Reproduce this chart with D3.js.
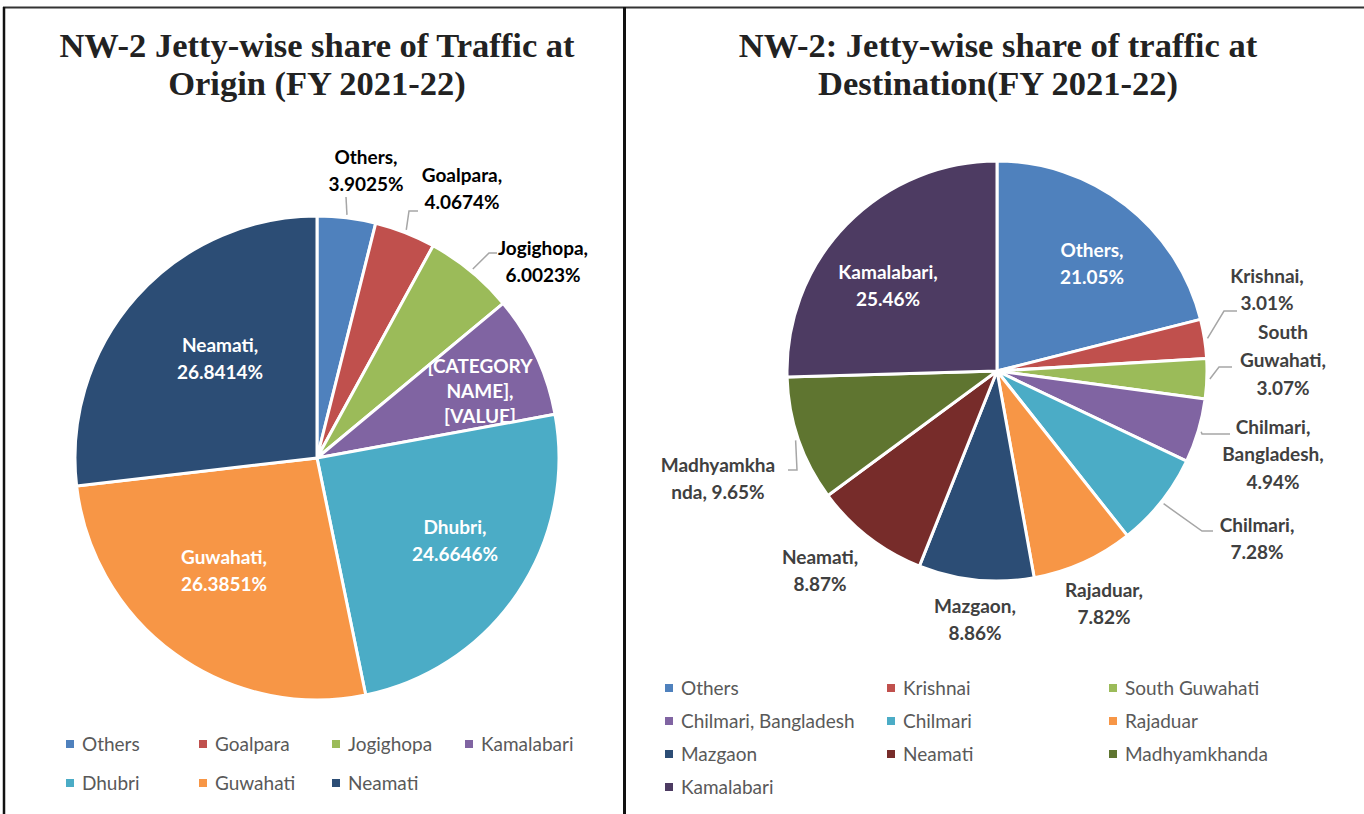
<!DOCTYPE html>
<html>
<head>
<meta charset="utf-8">
<script src="https://cdn.jsdelivr.net/npm/d3@7"></script>
<style>
  html, body { margin: 0; padding: 0; background: #fff; }
  svg { display: block; }
</style>
</head>
<body>
<svg id="chart" width="1364" height="814"></svg>
<script>
// ---------- DATA ----------
const originCategories = ["Others", "Goalpara", "Jogighopa", "Kamalabari", "Dhubri", "Guwahati", "Neamati"];
const originValues = [3.9025, 4.0674, 6.0023, 8.1367, 24.6646, 26.3851, 26.8414];

const destCategories = ["Others", "Krishnai", "South Guwahati", "Chilmari, Bangladesh", "Chilmari",
  "Rajaduar", "Mazgaon", "Neamati", "Madhyamkhanda", "Kamalabari"];
const destValues = [21.05, 3.01, 3.07, 4.94, 7.28, 7.82, 8.86, 8.87, 9.65, 25.46];

const originTitle = ["NW-2 Jetty-wise share of Traffic at", "Origin (FY 2021-22)"];
const destTitle = ["NW-2: Jetty-wise share of traffic at", "Destination(FY 2021-22)"];

// ---------- STYLE / LAYOUT ----------
const originColors = ["#4F81BD", "#C0504D", "#9BBB59", "#8064A2", "#4BACC6", "#F79646", "#2C4D75"];
const destColors = ["#4F81BD", "#C0504D", "#9BBB59", "#8064A2", "#4BACC6", "#F79646", "#2C4D75", "#772C2A", "#5F7530", "#4D3B62"];

const svg = d3.select("#chart");

// frame lines
svg.append("line").attr("x1", 3).attr("x2", 1364).attr("y1", 7.5).attr("y2", 7.5)
  .attr("stroke", "#333").attr("stroke-width", 2);
svg.append("line").attr("x1", 4).attr("x2", 4).attr("y1", 7).attr("y2", 814)
  .attr("stroke", "#111").attr("stroke-width", 2.5);
svg.append("line").attr("x1", 624.5).attr("x2", 624.5).attr("y1", 7).attr("y2", 814)
  .attr("stroke", "#111").attr("stroke-width", 3);

function drawPie(cfg) {
  const g = svg.append("g").attr("transform", `translate(${cfg.cx},${cfg.cy})`);
  const data = cfg.categories.map((c, i) => ({ name: c, value: cfg.values[i], i }));
  const pie = d3.pie().value(d => d.value).sort(null);
  const arcs = pie(data);
  const arc = d3.arc().innerRadius(0).outerRadius(cfg.r);
  const edge = d3.arc().innerRadius(cfg.r + 3).outerRadius(cfg.r + 3);
  const color = d3.scaleOrdinal().domain(cfg.categories).range(cfg.colors);

  g.selectAll("path.slice").data(arcs).enter().append("path")
    .attr("class", "slice")
    .attr("d", arc)
    .attr("fill", d => color(d.data.name))
    .attr("stroke", "#fff").attr("stroke-width", 3).attr("stroke-linejoin", "round");

  // clip paths per slice (for labels that overflow)
  const defs = svg.append("defs");
  arcs.forEach((a, k) => {
    defs.append("clipPath").attr("id", cfg.id + "clip" + k)
      .append("path").attr("d", d3.arc().innerRadius(0).outerRadius(cfg.r - 1.5)(a));
  });

  // leader lines
  arcs.forEach((a, k) => {
    const L = cfg.labels[k];
    if (!L.leader) return;
    const end = edge.centroid(a);
    const pts = L.leader.concat([end]);
    g.append("path")
      .attr("d", d3.line()(pts))
      .attr("fill", "none").attr("stroke", "#A6A6A6").attr("stroke-width", 1.5);
  });

  // labels
  arcs.forEach((a, k) => {
    const L = cfg.labels[k];
    const valStr = a.data.value.toFixed(cfg.decimals) + "%";
    const lines = L.lines ? L.lines(a.data.name, valStr) : [a.data.name + ",", valStr];
    const t = g.append("text")
      .attr("text-anchor", "middle")
      .attr("font-family", "Lato, 'Open Sans', sans-serif")
      .attr("font-weight", "bold")
      .attr("font-size", cfg.labelSize)
      .attr("fill", L.inside ? "#fff" : cfg.outColor);
    if (L.clip) t.attr("clip-path", `url(#${cfg.id}clip${k})`);
    const lh = L.lh || 27;
    lines.forEach((s, j) => {
      t.append("tspan").attr("x", L.dx).attr("y", L.dy + j * lh).attr("dy", "0.35em").text(s);
    });
  });

  // title
  cfg.title.forEach((s, j) => {
    svg.append("text")
      .attr("x", cfg.titleX).attr("y", cfg.titleY + j * 38)
      .attr("text-anchor", "middle")
      .attr("font-family", "'Liberation Serif', 'Times New Roman', serif")
      .attr("font-weight", "bold").attr("font-size", 34.5).attr("fill", "#222")
      .text(s);
  });

  // legend
  const lg = svg.append("g");
  cfg.categories.forEach((c, i) => {
    const col = i % cfg.legendCols.length, row = Math.floor(i / cfg.legendCols.length);
    const x = cfg.legendCols[col], y = cfg.legendY + row * cfg.legendDy;
    lg.append("rect").attr("x", x - 4).attr("y", y - 4).attr("width", 8).attr("height", 8)
      .attr("fill", color(c));
    lg.append("text").attr("x", x + 12).attr("y", y).attr("dy", "0.35em")
      .attr("font-family", "Lato, 'Open Sans', sans-serif").attr("font-size", 19)
      .attr("fill", "#595959").text(c);
  });
}

drawPie({
  id: "o", cx: 317, cy: 458, r: 242, decimals: 4, labelSize: 19, outColor: "#000",
  categories: originCategories, values: originValues, colors: originColors,
  title: originTitle, titleX: 317, titleY: 57,
  legendCols: [70, 203, 336, 469], legendY: 744, legendDy: 39,
  labels: [
    { dx: 49, dy: -301, leader: [[29, -261]] },
    { dx: 145, dy: -283, leader: [[101, -247], [92, -247]] },
    { dx: 226, dy: -210, leader: [[180, -205], [172, -205]] },
    { dx: 163, dy: -92, inside: true, clip: true, lh: 25,
      lines: () => ["[CATEGORY", "NAME],", "[VALUE]"] },
    { dx: 138, dy: 69, inside: true },
    { dx: -93, dy: 99, inside: true },
    { dx: -97, dy: -113, inside: true }
  ]
});

drawPie({
  id: "d", cx: 997, cy: 371, r: 210, decimals: 2, labelSize: 19, outColor: "#404040",
  categories: destCategories, values: destValues, colors: destColors,
  title: destTitle, titleX: 998, titleY: 57,
  legendCols: [669, 891, 1113], legendY: 688, legendDy: 33,
  labels: [
    { dx: 95, dy: -121, inside: true },
    { dx: 270, dy: -95, leader: [[240, -60], [227, -60]] },
    { dx: 286, dy: -39, lh: 28, leader: [[235, -4], [222, -4]],
      lines: (n, v) => ["South", "Guwahati,", v] },
    { dx: 276, dy: 56, lh: 27.5, leader: [[233, 63], [205, 63]],
      lines: (n, v) => ["Chilmari,", "Bangladesh,", v] },
    { dx: 260, dy: 154, leader: [[216, 160], [205, 160]] },
    { dx: 107, dy: 219 },
    { dx: -22, dy: 235 },
    { dx: -177, dy: 186 },
    { dx: -279, dy: 94, leader: [[-209, 99], [-200, 99]],
      lines: (n, v) => ["Madhyamkha", "nda, " + v] },
    { dx: -109, dy: -99, inside: true }
  ]
});
</script>
</body>
</html>
